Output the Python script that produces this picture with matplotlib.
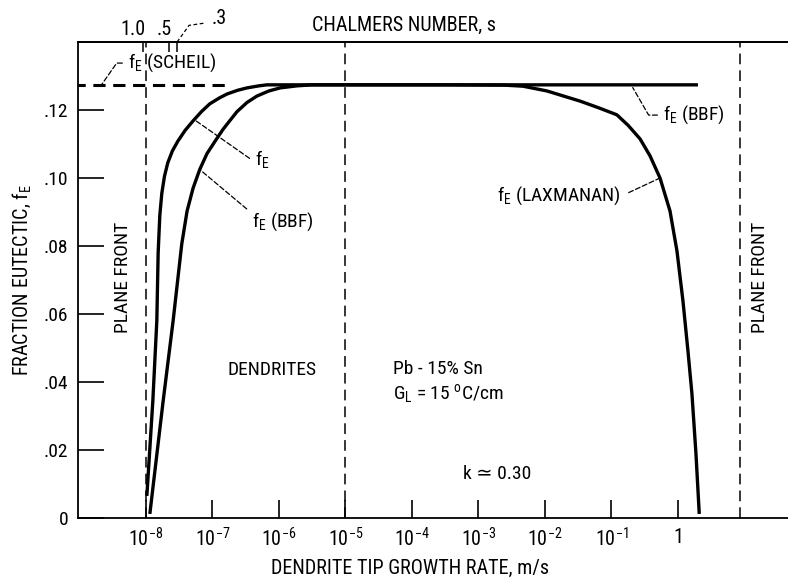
import matplotlib
matplotlib.use("Agg")
import matplotlib.pyplot as plt
from matplotlib import font_manager

# pick a narrow sans if there is one
names = {f.name for f in font_manager.fontManager.ttflist}
fam = "DejaVu Sans"
for cand in ["Liberation Sans Narrow", "Roboto Condensed", "Open Sans Condensed"]:
    if cand in names:
        fam = cand
        break
plt.rcParams['font.family'] = [fam, 'DejaVu Sans']
plt.rcParams['mathtext.fontset'] = 'custom'
plt.rcParams['mathtext.rm'] = fam
plt.rcParams['mathtext.it'] = fam

# f_E curve (log10 of growth rate, fraction eutectic)
fe_logv = [-7.985, -7.895, -7.835, -7.815, -7.79, -7.76, -7.72, -7.67, -7.6, -7.52, -7.41, -7.29,
           -7.16, -7.04, -6.89, -6.78, -6.62, -6.48, -6.3, -6.18, -3.5]
fe_val = [0.0065, 0.0344, 0.058, 0.078, 0.089, 0.0955, 0.1005, 0.1045, 0.108, 0.1108, 0.1140, 0.1168,
          0.1196, 0.1218, 0.1236, 0.1247, 0.1258, 0.1265, 0.1271, 0.1274, 0.1274]

# f_E (BBF) curve
bbf_logv = [-7.94, -7.74, -7.59, -7.46, -7.38, -7.29, -7.19, -7.08, -6.96, -6.84, -6.74,
            -6.63, -6.48, -6.33, -6.15, -5.98, -5.73, -5.5, 0.30]
bbf_val = [0.0012, 0.0344, 0.058, 0.0806, 0.0903, 0.097, 0.1025, 0.1072, 0.1108, 0.1143, 0.1168,
           0.1195, 0.1222, 0.1241, 0.1256, 0.1265, 0.1271, 0.1274, 0.1274]

# f_E (LAXMANAN) curve
lax_logv = [-3.5, -2.6, -2.33, -1.97, -1.47, -1.2, -0.92, -0.75, -0.57, -0.42, -0.27,
            -0.12, -0.015, 0.075, 0.15, 0.21, 0.27, 0.32]
lax_val = [0.1274, 0.1273, 0.1270, 0.1256, 0.1226, 0.1207, 0.1186, 0.1155, 0.1115, 0.1065, 0.100,
           0.0903, 0.0785, 0.0638, 0.0491, 0.0365, 0.019, 0.0012]

# Scheil limit
scheil_val = 0.1274
scheil_logv = [-9.1, -6.75]

# plane front / dendrite boundaries
vline_logv = [-8.0, -5.0, 0.93]

# Chalmers number on top axis
chalmers_s = ["1.0", ".5", ".3"]
chalmers_logv = [-8.045, -7.654, -7.534]

xticks_logv = [-8, -7, -6, -5, -4, -3, -2, -1, 0]
xtick_labels = [r"$10^{-8}$", r"$10^{-7}$", r"$10^{-6}$", r"$10^{-5}$", r"$10^{-4}$",
                r"$10^{-3}$", r"$10^{-2}$", r"$10^{-1}$", "1"]
yticks = [0, 0.02, 0.04, 0.06, 0.08, 0.10, 0.12]
ytick_labels = ["0", ".02", ".04", ".06", ".08", ".10", ".12"]

def p10(lst):
    return [10 ** v for v in lst]

fig = plt.figure(figsize=(7.88, 5.83), dpi=100)
ax = fig.add_axes([78 / 788, 1 - 518 / 583, 1 - 78 / 788, (518 - 42) / 583])
ax.set_xscale('log')
ax.set_xlim(10 ** -9.02, 10 ** 1.654)
ax.set_ylim(0, 0.14)
ax.spines['right'].set_visible(False)
for s in ax.spines.values():
    s.set_linewidth(1.3)

lw = 2.4
ax.plot(p10(fe_logv), fe_val, color='k', lw=lw, solid_capstyle='butt', solid_joinstyle='round')
ax.plot(p10(bbf_logv), bbf_val, color='k', lw=lw, solid_capstyle='butt', solid_joinstyle='round')
ax.plot(p10(lax_logv), lax_val, color='k', lw=lw, solid_capstyle='butt', solid_joinstyle='round')
ax.plot(p10(scheil_logv), [scheil_val, scheil_val], color='k', lw=2.2, ls=(0, (4, 2.5)))
for v in vline_logv:
    ax.axvline(10 ** v, color='k', lw=1.1, ls=(0, (7, 4)))

ax.set_xticks(p10(xticks_logv))
ax.set_xticklabels(xtick_labels, fontsize=14.5)
ax.xaxis.set_minor_locator(plt.NullLocator())
ax.set_yticks(yticks)
ax.set_yticklabels(ytick_labels, fontsize=14)
ax.tick_params(axis='x', direction='in', length=13, width=1.2, pad=7)
ax.tick_params(axis='y', direction='in', length=19, width=1.2, pad=7)

# top axis: Chalmers number
top = ax.twiny()
top.set_xscale('log')
top.set_xlim(ax.get_xlim())
top.set_xticks(p10(chalmers_logv))
top.set_xticklabels([])
top.xaxis.set_minor_locator(plt.NullLocator())
top.tick_params(axis='x', direction='in', length=7, width=1.1)
for sp in ['right', 'left', 'bottom']:
    top.spines[sp].set_visible(False)
top.spines['top'].set_linewidth(1.3)
trans = ax.get_xaxis_transform()
ax.text(10 ** -8.2, 1.026, chalmers_s[0], transform=trans, ha='center', va='center', fontsize=14.5)
ax.text(10 ** -7.72, 1.026, chalmers_s[1], transform=trans, ha='center', va='center', fontsize=14.5)
ax.text(10 ** -6.9, 1.05, chalmers_s[2], transform=trans, ha='center', va='center', fontsize=14.5)
ax.plot([10 ** -7.53, 10 ** -7.35, 10 ** -7.1], [1.0, 1.035, 1.04], transform=trans,
        color='k', lw=0.9, ls=(0, (3, 2)), clip_on=False)
fig.text(404 / 788, 1 - 25 / 583, "CHALMERS NUMBER, s", ha='center', va='center', fontsize=14.5)

fig.text(410 / 788, 1 - 568 / 583, "DENDRITE TIP GROWTH RATE, m/s", ha='center', va='center', fontsize=14.5)
fig.text(22 / 788, 1 - 280 / 583, r"FRACTION EUTECTIC, f$_\mathrm{E}$", rotation=90,
         ha='center', va='center', fontsize=14.5)

# curve labels with leaders
lead = dict(arrowstyle='-', lw=0.9, ls=(0, (4, 2)), shrinkA=2, shrinkB=0, color='k')
ax.annotate(r"f$_\mathrm{E}$ (SCHEIL)", xy=(10 ** -8.66, 0.1276), xytext=(10 ** -8.27, 0.1338),
            fontsize=14, va='center', ha='left',
            arrowprops=dict(lead, connectionstyle="angle,angleA=0,angleB=55,rad=0"))
ax.annotate(r"f$_\mathrm{E}$", xy=(10 ** -7.26, 0.117), xytext=(10 ** -6.36, 0.1055),
            fontsize=14, va='center', ha='left',
            arrowprops=dict(lead, connectionstyle="angle,angleA=0,angleB=-35,rad=0"))
ax.annotate(r"f$_\mathrm{E}$ (BBF)", xy=(10 ** -7.19, 0.1025), xytext=(10 ** -6.41, 0.087),
            fontsize=14, va='center', ha='left',
            arrowprops=dict(lead, connectionstyle="angle,angleA=0,angleB=-40,rad=0"))
ax.annotate(r"f$_\mathrm{E}$ (LAXMANAN)", xy=(10 ** -0.27, 0.100), xytext=(10 ** -2.72, 0.0947),
            fontsize=14, va='center', ha='left',
            arrowprops=dict(lead, shrinkA=4, connectionstyle="angle,angleA=0,angleB=25,rad=0"))
ax.annotate(r"f$_\mathrm{E}$ (BBF)", xy=(10 ** -0.68, 0.1266), xytext=(10 ** -0.226, 0.1185),
            fontsize=14, va='center', ha='left',
            arrowprops=dict(lead, connectionstyle="angle,angleA=0,angleB=-60,rad=0"))

ax.text(10 ** -8.35, 0.0709, "PLANE FRONT", rotation=90, ha='center', va='center', fontsize=14)
ax.text(10 ** 1.23, 0.0709, "PLANE FRONT", rotation=90, ha='center', va='center', fontsize=14)
ax.text(10 ** -6.1, 0.0435, "DENDRITES", ha='center', va='center', fontsize=14)
ax.text(10 ** -4.29, 0.0438, "Pb - 15% Sn", ha='left', va='center', fontsize=14)
ax.text(10 ** -4.29, 0.0365, r"G$_\mathrm{L}$ = 15 $^\mathrm{o}$C/cm", ha='left', va='center', fontsize=14)
ax.text(10 ** -3.23, 0.0129, "k \u2243 0.30", ha='left', va='center', fontsize=14)

fig.savefig("out.png", dpi=100)
